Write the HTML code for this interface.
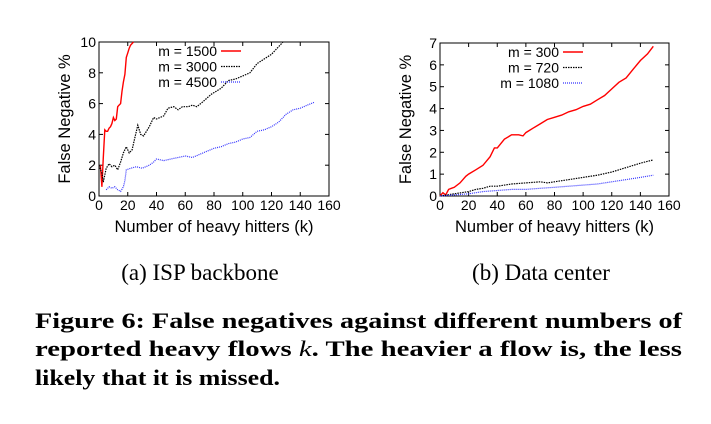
<!DOCTYPE html>
<html><head><meta charset="utf-8"><style>
body{margin:0;background:#fff;width:711px;height:419px;overflow:hidden}
svg text{font-family:"Liberation Sans",sans-serif}
.serif{font-family:"Liberation Serif",serif !important}
</style></head><body>
<svg id="fig" width="711" height="419">
<g id="chartA"></g>
<g id="chartB"></g>
<text class="serif" x="200" y="280" font-size="23" text-anchor="middle">(a) ISP backbone</text>
<text class="serif" x="541" y="280" font-size="23" text-anchor="middle">(b) Data center</text>
<g font-weight="bold" font-size="22">
<text class="serif" x="35" y="328" textLength="647" lengthAdjust="spacingAndGlyphs">Figure 6: False negatives against different numbers of</text>
<text class="serif" x="35" y="356" textLength="647" lengthAdjust="spacingAndGlyphs">reported heavy flows <tspan font-style="italic" font-weight="normal">k</tspan>. The heavier a flow is, the less</text>
<text class="serif" x="35" y="385" textLength="245" lengthAdjust="spacingAndGlyphs">likely that it is missed.</text>
</g>
</svg>
<script>
// ISP backbone data (k, %)
const ispX1500=[1,2,3,4,5,6,7,8,9,10,11,12,13,14,15,16,17,18,19,20,21,22,23,24];
const ispY1500=[2.0,0.6,2.5,4.3,4.2,4.2,4.4,4.5,4.7,5.1,4.9,5.0,5.8,5.9,6.0,6.8,7.4,7.9,9.0,9.3,9.6,9.8,9.9,10.0];
const ispX3000=[0,2,3,5,7,9,11,13,15,17,19,21,23,25,27,29,31,35,38,40,45,48,52,55,58,62,65,68,72,78,85,90,95,100,105,110,115,120,125,128];
const ispY3000=[2.0,1.5,0.9,1.8,2.1,1.9,2.0,1.7,2.2,2.8,3.2,2.8,3.0,3.8,4.6,4.0,3.9,4.5,5.1,5.0,5.2,5.7,5.8,5.6,5.8,5.8,5.9,5.8,6.1,6.6,7.0,7.5,7.6,7.8,8.0,8.6,8.9,9.2,9.7,10.0];
const ispX4500=[5,7,9,11,13,15,17,18,19,22,26,30,35,38,40,45,50,55,60,65,70,75,80,85,90,95,100,105,110,115,120,125,130,135,140,145,150];
const ispY4500=[0.4,0.6,0.5,0.6,0.4,0.3,0.6,1.0,1.7,1.8,1.9,1.8,2.0,2.2,2.4,2.3,2.4,2.5,2.6,2.5,2.7,2.9,3.1,3.2,3.4,3.5,3.7,3.8,4.2,4.3,4.5,4.8,5.3,5.6,5.7,5.9,6.1];
// Data center
const dcX300=[0,2,4,6,8,10,14,18,20,25,30,35,38,40,45,50,55,58,60,65,70,75,80,85,90,95,100,105,110,115,120,125,130,135,140,145,149];
const dcY300=[0,0.15,0.05,0.3,0.35,0.4,0.6,0.9,1.0,1.2,1.4,1.8,2.2,2.2,2.6,2.8,2.8,2.75,2.9,3.1,3.3,3.5,3.6,3.7,3.85,3.95,4.1,4.2,4.4,4.6,4.9,5.2,5.4,5.8,6.2,6.5,6.85];
const dcX720=[0,5,10,15,20,25,30,35,40,50,60,70,75,80,90,100,110,120,130,140,149];
const dcY720=[0,0.05,0.1,0.15,0.2,0.3,0.35,0.45,0.45,0.55,0.6,0.65,0.6,0.65,0.75,0.85,0.95,1.1,1.3,1.5,1.65];
const dcX1080=[0,10,20,30,40,50,60,70,80,90,100,110,120,130,140,149];
const dcY1080=[0,0.05,0.1,0.2,0.25,0.3,0.3,0.35,0.4,0.45,0.5,0.55,0.65,0.75,0.85,0.95];
const xTicks=[0,20,40,60,80,100,120,140,160];
const ispYTicks=[0,2,4,6,8,10];
const dcYTicks=[0,1,2,3,4,5,6,7];
const ispLabels=["m = 1500","m = 3000","m = 4500"];
const dcLabels=["m = 300","m = 720","m = 1080"];

const NS="http://www.w3.org/2000/svg";
function mk(p,t,a){const e=document.createElementNS(NS,t);for(const k in a)e.setAttribute(k,a[k]);p.appendChild(e);return e;}
const styles=[{c:"#f00",d:"",w:1.4},{c:"#000",d:"1.5,1",w:1.2},{c:"#33f",d:"1,1",w:1.2}];
function draw(g,box,ymax,yTicks,series,labels,legX){
  const sx=v=>box.x0+(v/160)*(box.x1-box.x0);
  const sy=v=>box.y1-(Math.min(v,ymax)/ymax)*(box.y1-box.y0);
  const fr=mk(g,"rect",{x:box.x0,y:box.y0,width:box.x1-box.x0,height:box.y1-box.y0,fill:"none",stroke:"#000","stroke-width":1});
  
  
  xTicks.forEach(v=>{
    mk(g,"line",{x1:sx(v),x2:sx(v),y1:box.y1,y2:box.y1-4,stroke:"#000"});
    mk(g,"line",{x1:sx(v),x2:sx(v),y1:box.y0,y2:box.y0+4,stroke:"#000"});
    const t=mk(g,"text",{x:sx(v),y:box.y1+14,"font-size":14,"text-anchor":"middle"});t.textContent=v;
    
    
  });
  yTicks.forEach(v=>{
    mk(g,"line",{x1:box.x0,x2:box.x0+4,y1:sy(v),y2:sy(v),stroke:"#000"});
    mk(g,"line",{x1:box.x1,x2:box.x1-4,y1:sy(v),y2:sy(v),stroke:"#000"});
    const t=mk(g,"text",{x:box.x0-3,y:sy(v)+5,"font-size":14,"text-anchor":"end"});t.textContent=v;
    
    
  });
  const xt=mk(g,"text",{x:(box.x0+box.x1)/2,y:box.y1+36,"font-size":16.5,"text-anchor":"middle"});xt.textContent="Number of heavy hitters (k)";
  
  
  const yt=mk(g,"text",{x:0,y:0,"font-size":16.5,"text-anchor":"middle",transform:`translate(${box.x0-29},${(box.y0+box.y1)/2}) rotate(-90)`});yt.textContent="False Negative %";
  
  
  series.forEach((s,i)=>{
    const st=styles[i];
    const pts=s[0].map((x,j)=>sx(x).toFixed(1)+","+sy(s[1][j]).toFixed(1)).join(" ");
    const pl=mk(g,"polyline",{points:pts,fill:"none",stroke:st.c,"stroke-width":st.w,"stroke-dasharray":st.d});
    
    
    const ly=box.y0+9+i*15.5;
    const lt=mk(g,"text",{x:legX,y:ly+5,"font-size":14,"text-anchor":"end"});lt.textContent=labels[i];
    
    
    mk(g,"line",{x1:legX+4,x2:legX+24,y1:ly,y2:ly,stroke:st.c,"stroke-width":st.w,"stroke-dasharray":st.d});
  });
}
draw(document.getElementById("chartA"),{x0:99,x1:329,y0:42,y1:196},10,ispYTicks,
 [[ispX1500,ispY1500],[ispX3000,ispY3000],[ispX4500,ispY4500]],ispLabels,217);
draw(document.getElementById("chartB"),{x0:440,x1:669,y0:43,y1:196},7,dcYTicks,
 [[dcX300,dcY300],[dcX720,dcY720],[dcX1080,dcY1080]],dcLabels,559);
</script>
</body></html>
